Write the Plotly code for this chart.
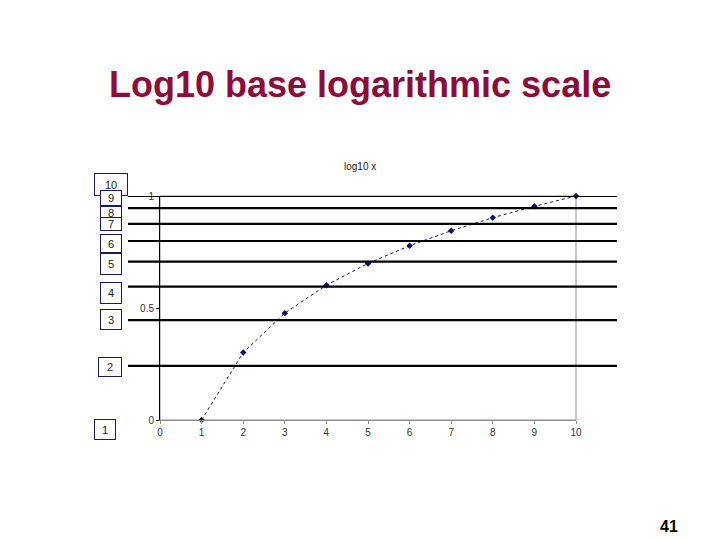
import plotly.graph_objects as go

# ---- data ----
x_values = [1, 2, 3, 4, 5, 6, 7, 8, 9, 10]
log_values = [0.0, 0.301, 0.477, 0.602, 0.699, 0.778, 0.845, 0.903, 0.954, 1.0]
guide_levels = [1.0, 0.946, 0.876, 0.799, 0.707, 0.595, 0.446, 0.242]
box_labels = ["10", "9", "8", "7", "6", "5", "4", "3", "2", "1"]
x_ticks = [0, 1, 2, 3, 4, 5, 6, 7, 8, 9, 10]
y_ticks = [0, 0.5, 1]
y_tick_text = ["0", "0.5", "1"]

# ---- page geometry (pixels) ----
W, H = 720, 540
L, R, T, B = 160, 576, 196, 420
PW, PH = R - L, B - T


def px(x):
    return (x - L) / PW


def py(y):
    return (B - y) / PH


FONT = "Liberation Sans, Arial, sans-serif"

fig = go.Figure()
fig.add_trace(go.Scatter(
    x=x_values, y=log_values, mode="lines+markers",
    line=dict(color="#10106a", width=1, dash="dot"),
    marker=dict(symbol="diamond", size=5, color="#10106a"),
    cliponaxis=False, showlegend=False, hoverinfo="skip",
))

shapes = [
    dict(type="rect", xref="paper", yref="paper", x0=0, x1=1, y0=0, y1=1,
         line=dict(color="#8c8c8c", width=1), layer="below"),
]
for lv in guide_levels:
    shapes.append(dict(type="line", xref="paper", yref="y",
                       x0=px(128), x1=px(617), y0=lv, y1=lv,
                       line=dict(color="black", width=2.2), layer="above"))

# label boxes: (cx, cy, w, h) in pixels
box_geom = [
    (110.5, 184.5, 34, 23),
    (110.5, 198, 22, 16),
    (110.5, 213, 22, 14),
    (110.5, 224, 22, 14),
    (110.5, 243.5, 22, 19),
    (110.5, 264, 22, 22),
    (110.5, 292.5, 22, 22),
    (110.5, 319.5, 22, 21),
    (110.3, 366.7, 24, 20),
    (104.5, 429.7, 22, 21),
]
annotations = []
for lab, (cx, cy, w, h) in zip(box_labels, box_geom):
    annotations.append(dict(
        text=lab, xref="paper", yref="paper", x=px(cx), y=py(cy),
        xanchor="center", yanchor="middle", showarrow=False,
        width=w - 2, height=h - 2, borderpad=0, borderwidth=1,
        bordercolor="#1c1c5c", bgcolor="white",
        font=dict(family=FONT, size=11, color="#222222"),
    ))

annotations.append(dict(
    text="<b>Log10 base logarithmic scale</b>", xref="paper", yref="paper",
    x=px(360), y=py(84), xanchor="center", yanchor="middle", showarrow=False,
    font=dict(family=FONT, size=36, color="#8c0c3a"),
))
annotations.append(dict(
    text="log10 x", xref="paper", yref="paper",
    x=px(360), y=py(166), xanchor="center", yanchor="middle", showarrow=False,
    font=dict(family=FONT, size=10, color="#222222"),
))
annotations.append(dict(
    text="<b>41</b>", xref="paper", yref="paper",
    x=px(669), y=py(526), xanchor="center", yanchor="middle", showarrow=False,
    font=dict(family=FONT, size=16, color="black"),
))

fig.update_layout(
    width=W, height=H,
    margin=dict(l=L, r=W - R, t=T, b=H - B),
    paper_bgcolor="white", plot_bgcolor="white",
    shapes=shapes, annotations=annotations,
    hovermode=False,
    xaxis=dict(range=[0, 10], tickvals=x_ticks, showgrid=False, zeroline=False,
               showline=True, linecolor="#8c8c8c", linewidth=1,
               ticks="outside", ticklen=3, tickcolor="#8c8c8c",
               tickfont=dict(family=FONT, size=10, color="#333333")),
    yaxis=dict(range=[0, 1], tickvals=y_ticks, ticktext=y_tick_text,
               showgrid=False, zeroline=False,
               showline=True, linecolor="black", linewidth=1,
               ticks="outside", ticklen=3, tickcolor="black",
               tickfont=dict(family=FONT, size=10, color="#333333")),
)

fig.write_html("out.html", config={"displayModeBar": False},
               post_script="document.body.style.margin='0';")
